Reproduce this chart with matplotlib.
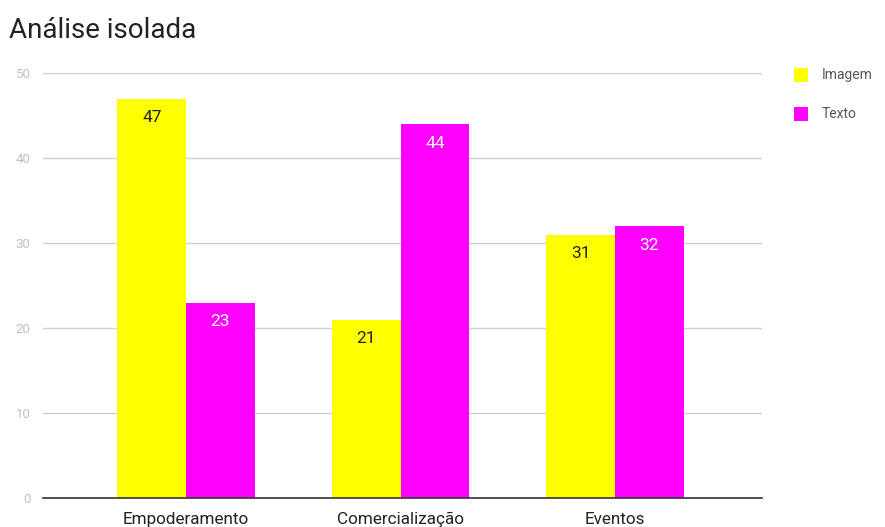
import matplotlib
matplotlib.use("Agg")
import matplotlib.pyplot as plt
from matplotlib.patches import Rectangle
import numpy as np

plt.rcParams['font.family'] = ['Roboto', 'DejaVu Sans']

categories = ["Empoderamento", "Comercialização", "Eventos"]
imagem = [47, 21, 31]
texto = [23, 44, 32]
series_names = ["Imagem", "Texto"]
colors = ["#ffff00", "#ff00ff"]
label_colors = ["#222222", "#ffffff"]

W, H = 885, 527
fig = plt.figure(figsize=(W/100, H/100), dpi=100)
ax = fig.add_axes([43/W, 1-498/H, (762-43)/W, (498-73)/H])

x = np.arange(len(categories))
bw = 0.32
for i, (vals, c, lc) in enumerate(zip([imagem, texto], colors, label_colors)):
    pos = x + (i - 0.5) * bw
    ax.bar(pos, vals, width=bw, color=c, zorder=3)
    for p, v in zip(pos, vals):
        ax.annotate(str(v), (p, v), xytext=(0, -19), textcoords="offset pixels",
                    ha="center", va="center", color=lc, fontsize=12.5, zorder=4)

ax.set_ylim(0, 50)
ax.set_xlim(-0.667, 2.685)
ax.set_yticks([0, 10, 20, 30, 40, 50])
ax.grid(axis="y", color="#d0d0d0", linewidth=1, zorder=0)
ax.set_axisbelow(True)
for s in ["top", "right", "left"]:
    ax.spines[s].set_visible(False)
ax.spines["bottom"].set_color("#333333")
ax.spines["bottom"].set_linewidth(1.2)
ax.spines["bottom"].set_zorder(5)
ax.tick_params(axis="y", length=0, labelsize=9.5, labelcolor="#c0c0c0", pad=9)
ax.tick_params(axis="x", length=0, labelsize=12.3, labelcolor="#222222", pad=10)
ax.set_xticks(x)
ax.set_xticklabels(categories)

fig.text(9/W, 1-31/H, "Análise isolada", fontsize=20, color="#222222", ha="left", va="center")

for j, (name, c) in enumerate(zip(series_names, colors)):
    yc = 75 + j*39
    fig.patches.append(Rectangle((794/W, 1-(yc+7)/H), 14/W, 14/H, transform=fig.transFigure,
                                 facecolor=c, edgecolor="none"))
    fig.text(822/W, 1-yc/H, name, fontsize=10, color="#555555", ha="left", va="center")

fig.savefig("out.png", dpi=100)
